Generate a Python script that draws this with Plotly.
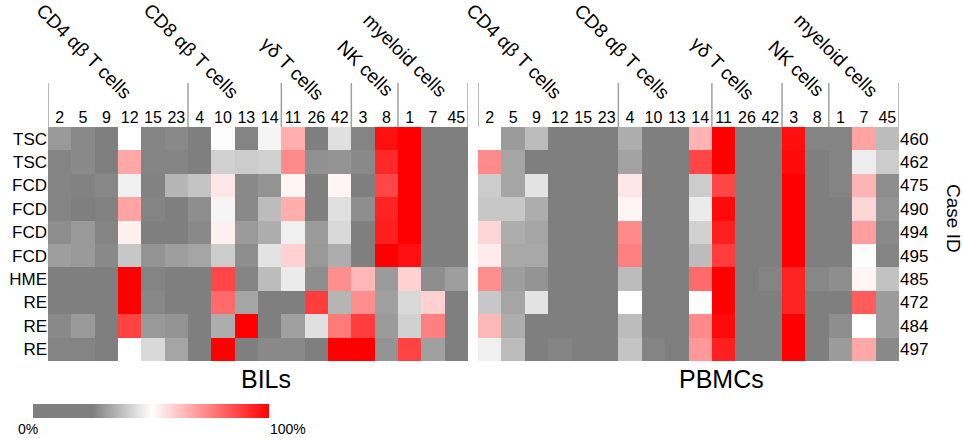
import plotly.graph_objects as go

# cluster ids along the top, case ids / types down the side
clusters = ["2", "5", "9", "12", "15", "23", "4", "10", "13", "14",
            "11", "26", "42", "3", "8", "1", "7", "45"]
case_ids = ["460", "462", "475", "490", "494", "495", "485", "472", "484", "497"]
case_types = ["TSC", "TSC", "FCD", "FCD", "FCD", "FCD", "HME", "RE", "RE", "RE"]

# lineage groups (first cluster index, last cluster index, label)
groups = [
    (0, 5, "CD4 \u03b1\u03b2 T cells"),
    (6, 9, "CD8 \u03b1\u03b2 T cells"),
    (10, 12, "\u03b3\u03b4 T cells"),
    (13, 14, "NK cells"),
    (15, 17, "myeloid cells"),
]

# percent values (0-100)
bils = [
    [30, 27, 22, 50, 26, 27, 20, 49.5, 26, 48, 66, 22, 44, 26, 97, 100, 22, 22],
    [26, 27, 22, 67, 26, 26, 24, 41, 40, 41, 73, 28.5, 29, 27, 92, 100, 22, 22],
    [26, 25.5, 26.5, 47, 25.5, 35.5, 38.5, 55, 27, 29, 52, 22, 52, 22, 86, 100, 22, 22],
    [26, 24, 25.5, 68, 26, 22, 28, 48, 27, 37, 66, 22, 44, 28, 93, 100, 22, 22],
    [28, 30, 26, 53, 24, 21, 27, 53, 30.5, 34, 47, 30.5, 42.5, 22, 94, 100, 22, 22],
    [31, 30, 27, 39, 29, 31, 32.5, 40, 28, 44.5, 59, 30, 34, 22, 100, 97, 22, 22],
    [22, 22, 21, 100, 26, 24, 21, 86, 26, 37, 46, 28, 72, 64, 30.5, 59, 28, 31],
    [22, 22, 21, 100, 26.5, 24, 22, 79, 32.5, 24, 24, 88, 35.5, 72, 31.5, 42.5, 59, 22],
    [27, 30, 22, 87, 30, 29, 23, 34, 100, 25, 31.5, 44, 76, 88, 30.5, 41, 75, 22],
    [26, 26, 23, 50, 42.5, 32.5, 23, 100, 22, 27, 27, 22, 100, 100, 29, 87, 31.5, 22],
]

pbmcs = [
    [50, 30.5, 37, 22, 22, 22, 34, 22, 22, 65, 100, 22, 22, 97, 26, 26, 68, 37],
    [73, 32.5, 22, 22, 22, 22, 32, 22, 22, 86, 100, 22, 22, 98, 25, 26, 46.5, 40],
    [40, 32.5, 44.5, 22, 22, 22, 55, 22, 22, 40, 86, 22, 22, 100, 24, 26, 65, 28],
    [39, 39, 34, 22, 22, 22, 52, 22, 22, 46, 98, 22, 22, 100, 24, 25, 58, 29],
    [58, 34, 32.5, 22, 22, 22, 73, 22, 22, 41, 94, 22, 22, 100, 24, 25, 69, 27],
    [54, 33, 33, 22, 22, 22, 75, 22, 22, 37, 88, 22, 22, 100, 24, 25, 49.5, 26],
    [72, 31, 29, 22, 22, 22, 37, 22, 22, 79, 100, 22, 26, 93, 26.5, 28, 52, 38],
    [39, 32.5, 44.5, 22, 22, 22, 50, 22, 22, 49.5, 100, 22, 22, 93, 24, 21, 82, 30.5],
    [64, 34, 22, 22, 22, 22, 37, 22, 22, 73, 98, 22, 22, 100, 24, 28, 50, 30.5],
    [47, 37, 22, 26, 22, 22, 38.5, 26, 22, 70, 94, 22, 22, 100, 24, 30.5, 67, 27],
]

# colour key end points (percent)
scale_ends = [0, 100]
scale_labels = ["0%", "100%"]

W, H = 963, 438
FONT = "Liberation Sans, Arial, sans-serif"


def px_x(p):
    return p / W


def px_y(p):
    return 1 - p / H


top_px, bottom_px = 127, 361
x_range = [-0.5, len(clusters) - 0.5]
y_range = [len(case_ids) - 0.5, -0.5]   # first case on top
panels = [
    ("x", "y", bils, "BILs", 266),
    ("x2", "y2", pbmcs, "PBMCs", 721),
]

fig = go.Figure()

for xref, yref, z, _, _ in panels:
    fig.add_trace(go.Heatmap(
        z=z,
        x=clusters,
        y=case_ids,
        xaxis=xref,
        yaxis=yref,
        coloraxis="coloraxis",
        hovertemplate="cluster %{x}<br>case %{y}<br>%{z}%<extra></extra>",
    ))

# colour key drawn as a smoothed two-cell strip on its own axes
fig.add_trace(go.Heatmap(
    z=[scale_ends],
    x=scale_ends,
    y=[0],
    xaxis="x3",
    yaxis="y3",
    zsmooth="best",
    coloraxis="coloraxis",
    hoverinfo="skip",
))

shapes = []
annotations = []
for xref, yref, z, title, title_x in panels:
    # separator lines above the heatmap
    edges = [-0.5] + [g[1] + 0.5 for g in groups]
    for e in edges:
        shapes.append(dict(
            type="line", xref=xref, yref="paper",
            x0=e, x1=e, y0=px_y(top_px), y1=px_y(83),
            line=dict(color="#a0a0a0", width=1.5),
        ))
    # rotated group labels
    label_pos = [(1.06, 51), (5.66, 51), (9.95, 69), (13.1, 69), (14.82, 55)]
    for (gx, gy), g in zip(label_pos, groups):
        annotations.append(dict(
            text=g[2], xref=xref, yref="paper", x=gx, y=px_y(gy),
            xanchor="center", yanchor="middle", textangle=45,
            showarrow=False, font=dict(size=19, color="black", family=FONT),
        ))
    annotations.append(dict(
        text=title, xref="paper", yref="paper", x=px_x(title_x), y=px_y(379),
        xanchor="center", yanchor="middle", showarrow=False,
        font=dict(size=25, color="black", family=FONT),
    ))

annotations.append(dict(
    text="Case ID", xref="paper", yref="paper", x=px_x(953), y=px_y(218),
    xanchor="center", yanchor="middle", textangle=90, showarrow=False,
    font=dict(size=19, color="black", family=FONT)))
for v, lab, dx in zip(scale_ends, scale_labels, [-5, 19]):
    annotations.append(dict(
        text=lab, xref="x3", yref="paper", x=v, y=px_y(429), xshift=dx,
        xanchor="center", yanchor="middle", showarrow=False,
        font=dict(size=14, color="black", family=FONT)))

axis_common = dict(type="category", showgrid=False, zeroline=False,
                   showline=False, ticks="", fixedrange=True, automargin=False)
hidden = dict(visible=False, showgrid=False, zeroline=False, fixedrange=True)

fig.update_layout(
    width=W,
    height=H,
    margin=dict(l=0, r=0, t=0, b=0),
    paper_bgcolor="white",
    plot_bgcolor="white",
    font=dict(family=FONT, color="black"),
    coloraxis=dict(
        cmin=0, cmax=100, showscale=False,
        colorscale=[[0, "#7f7f7f"], [0.25, "#7f7f7f"], [0.5, "#ffffff"], [1, "#ff0000"]],
    ),
    xaxis=dict(domain=[px_x(48), px_x(468)], anchor="y", side="top", range=x_range,
               tickfont=dict(size=16), **axis_common),
    xaxis2=dict(domain=[px_x(478), px_x(899)], anchor="y2", side="top", range=x_range,
                tickfont=dict(size=16), **axis_common),
    yaxis=dict(domain=[px_y(bottom_px), px_y(top_px)], anchor="x", range=y_range,
               tickvals=case_ids, ticktext=case_types,
               tickfont=dict(size=17), **axis_common),
    yaxis2=dict(domain=[px_y(bottom_px), px_y(top_px)], anchor="x2", side="right",
                range=y_range, tickvals=case_ids, ticktext=case_ids,
                tickfont=dict(size=17), **axis_common),
    xaxis3=dict(domain=[px_x(33), px_x(269)], anchor="y3", range=scale_ends, **hidden),
    yaxis3=dict(domain=[px_y(418), px_y(404)], anchor="x3", range=[-0.5, 0.5], **hidden),
    shapes=shapes,
    annotations=annotations,
)

# drop the default page margin so the figure sits at the window corner
fig.write_html("out.html", config={"displayModeBar": False},
               post_script="document.body.style.margin='0';")
